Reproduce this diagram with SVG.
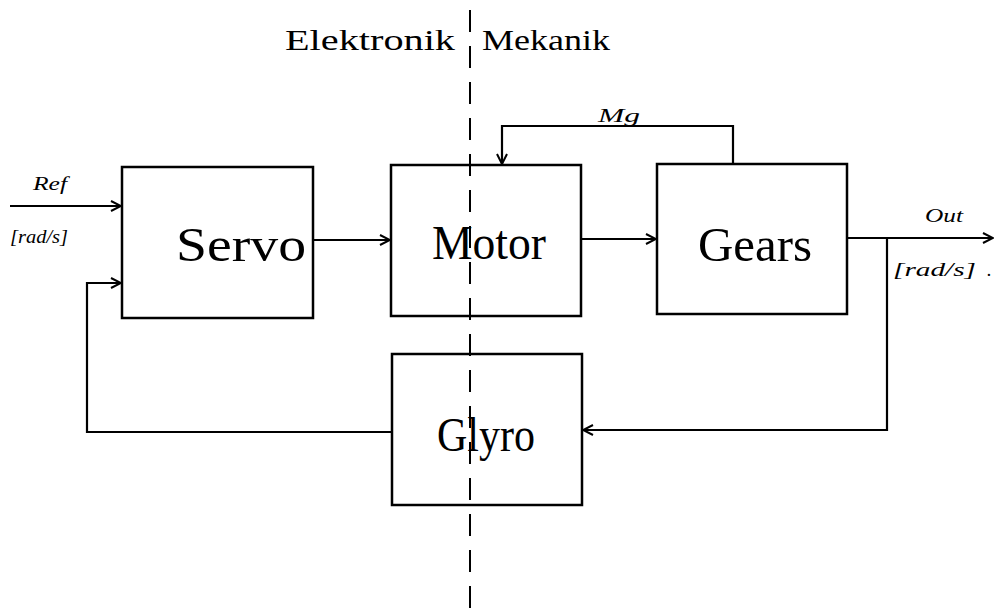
<svg xmlns="http://www.w3.org/2000/svg" width="995" height="612" viewBox="0 0 995 612">
<style>
.box{fill:none;stroke:#000;stroke-width:2.5}
.ln{fill:none;stroke:#000;stroke-width:2.2}
.big{font-size:48px;text-anchor:middle}
.hd{font-size:29px}
.it{font-size:19px;font-style:italic}
</style>
<defs>
<marker id="ah" viewBox="0 0 12 12" refX="11" refY="6" markerWidth="12" markerHeight="12" markerUnits="userSpaceOnUse" orient="auto">
<path d="M1,1 L11,6 L1,11" fill="none" stroke="#000" stroke-width="2"/>
</marker>
</defs>
<rect width="995" height="612" fill="#fff"/>
<g font-family="Liberation Serif, DejaVu Serif, serif" fill="#000">
<text class="hd" x="285" y="50" textLength="170" lengthAdjust="spacingAndGlyphs">Elektronik</text>
<text class="hd" x="482" y="50" textLength="128" lengthAdjust="spacingAndGlyphs">Mekanik</text>
<g id="servo"><rect class="box" x="122" y="167" width="191" height="151"/><text class="big" x="241" y="261" textLength="130" lengthAdjust="spacingAndGlyphs">Servo</text></g>
<g id="motor"><rect class="box" x="391" y="165" width="190" height="151"/><text class="big" x="489" y="259" textLength="114" lengthAdjust="spacingAndGlyphs">Motor</text></g>
<g id="gears"><rect class="box" x="657" y="164" width="190" height="150"/><text class="big" x="755" y="261" textLength="114" lengthAdjust="spacingAndGlyphs">Gears</text></g>
<g id="glyro"><rect class="box" x="392" y="354" width="190" height="151"/><text class="big" x="486" y="451" textLength="98" lengthAdjust="spacingAndGlyphs">Glyro</text></g>
<text class="it" x="33" y="190" textLength="34" lengthAdjust="spacingAndGlyphs">Ref</text>
<text class="it" x="10" y="243" textLength="58" lengthAdjust="spacingAndGlyphs">[rad/s]</text>
<text class="it" x="598" y="122" textLength="42" lengthAdjust="spacingAndGlyphs">Mg</text>
<text class="it" x="925" y="222" textLength="38" lengthAdjust="spacingAndGlyphs">Out</text>
<text class="it" x="893" y="276" textLength="83" lengthAdjust="spacingAndGlyphs">[rad/s]</text>
<text class="it" x="987" y="276">.</text>
</g>
<g id="connectors">
<path class="ln" d="M10,206 H121" marker-end="url(#ah)"/>
<path class="ln" d="M392,432 H87 V283 H121" marker-end="url(#ah)"/>
<path class="ln" d="M313,240 H390" marker-end="url(#ah)"/>
<path class="ln" d="M581,239 H656" marker-end="url(#ah)"/>
<path class="ln" d="M733,164 V126 H502 V164" marker-end="url(#ah)"/>
<path class="ln" d="M847,238 H993" marker-end="url(#ah)"/>
<path class="ln" d="M887,238 V430 H583" marker-end="url(#ah)"/>
<path d="M470,10 V612" stroke="#000" stroke-width="2" stroke-dasharray="22,14" fill="none"/>
</g>
</svg>
